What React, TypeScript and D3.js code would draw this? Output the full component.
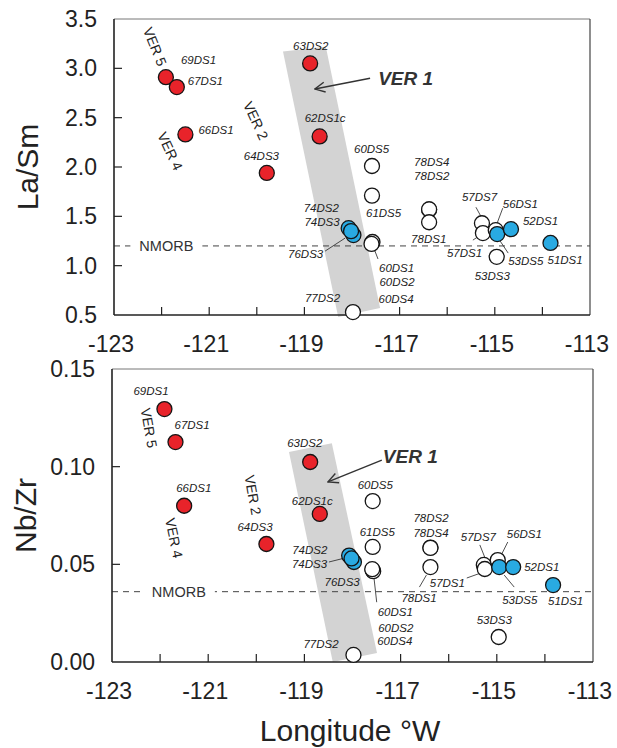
import React from "react"
import * as d3 from "d3"

// samples, west to east
const sampleIds = ["69DS1", "67DS1", "66DS1", "64DS3", "63DS2", "62DS1c", "60DS5", "61DS5", "74DS2", "74DS3", "76DS3", "60DS1", "60DS2", "60DS4", "77DS2", "78DS4", "78DS2", "78DS1", "57DS7", "57DS1", "56DS1", "53DS5", "52DS1", "51DS1", "53DS3"]
const sampleGroup = ["red", "red", "red", "red", "red", "red", "open", "open", "blue", "blue", "blue", "open", "open", "open", "open", "open", "open", "open", "open", "open", "open", "blue", "blue", "blue", "open"]
const longitude = [-121.91, -121.68, -121.5, -119.79, -118.88, -118.68, -117.58, -117.58, -118.07, -117.97, -118.02, -117.58, -117.57, -117.59, -117.98, -116.38, -116.38, -116.38, -115.27, -115.25, -114.98, -114.95, -114.66, -113.83, -114.96]
const laSm = [2.91, 2.81, 2.33, 1.94, 3.05, 2.31, 2.01, 1.71, 1.38, 1.31, 1.35, 1.23, 1.24, 1.22, 0.53, 1.57, 1.57, 1.44, 1.43, 1.33, 1.36, 1.32, 1.37, 1.23, 1.09]
const nbZr = [0.1295, 0.1126, 0.08, 0.0604, 0.1024, 0.0758, 0.0824, 0.0589, 0.0545, 0.0512, 0.053, 0.047, 0.0465, 0.0475, 0.0036, 0.0586, 0.0584, 0.0486, 0.0497, 0.0476, 0.0522, 0.0486, 0.0486, 0.0394, 0.0128]

const lonTicks = [-123, -122, -121, -120, -119, -118, -117, -116, -115, -114, -113]
const lonLabels = [-123, -121, -119, -117, -115, -113]
const laSmTicks = [0.5, 1.0, 1.5, 2.0, 2.5, 3.0, 3.5]
const nbZrTicks = [0, 0.05, 0.1, 0.15]
const nmorbLaSm = 1.2
const nmorbNbZr = 0.036

// VER 1 band corners [lon, value]
const bandLaSm = [[-119.45, 3.17], [-118.55, 3.22], [-117.41, 0.57], [-118.29, 0.48]]
const bandNbZr = [[-119.32, 0.1075], [-118.43, 0.112], [-117.49, 0.0046], [-118.41, 0.0]]

// VER segment notes [text, lon, value, angle]
const verLaSm = [["VER 5", -122.14, 3.22, 68], ["VER 4", -121.82, 2.16, 65], ["VER 2", -120.02, 2.47, 65]]
const verNbZr = [["VER 5", -122.23, 0.1198, 80], ["VER 4", -121.71, 0.0635, 78], ["VER 2", -120.07, 0.0855, 80]]
// VER 1 arrow: from, to, label
const ver1LaSm = [[-117.62, 2.9], [-118.78, 2.79], [-117.45, 2.83]]
const ver1NbZr = [[-117.39, 0.1034], [-118.51, 0.0922], [-117.37, 0.1019]]
const nmorbLabelLon = [-121.9, -121.61]

const W = 617
const H = 748
const font = "'Liberation Sans', Arial, Helvetica, sans-serif"

// label offsets (px from the point) and leader lines
const labelsTop = {
  "69DS1": [15, -13], "67DS1": [11, -2], "66DS1": [13, 0], "64DS3": [-23, -13], "63DS2": [-17, -13], "62DS1c": [-15, -14],
  "60DS5": [-18, -13], "61DS5": [-6, 21], "74DS2": [-45, -16], "74DS3": [-49, -9], "76DS3": [-63, 27],
  "60DS1": [7, 29], "60DS2": [7, 44], "60DS4": [7, 59], "77DS2": [-48, -10], "78DS4": [-15, -43], "78DS2": [-15, -29],
  "78DS1": [-18, 21], "57DS7": [-20, -22], "57DS1": [-36, 24], "56DS1": [7, -22], "53DS5": [11, 31], "52DS1": [12, -4],
  "51DS1": [-3, 21], "53DS3": [-22, 23],
}
const leadersTop = {
  "76DS3": [-26, 20, -6, 7], "60DS1": [1, 3, 6, 16], "57DS7": [-6, -16, 0, -5], "56DS1": [7, -22, 1, -6],
  "57DS1": [-10, 7, -4, 3], "53DS5": [11, 19, 3, 7],
}
const labelsBottom = {
  "69DS1": [-31, -14], "67DS1": [-1, -13], "66DS1": [-8, -14], "64DS3": [-29, -13], "63DS2": [-23, -15], "62DS1c": [-28, -9],
  "60DS5": [-15, -12], "61DS5": [-13, -11], "74DS2": [-57, -2], "74DS3": [-62, 6], "76DS3": [-27, 28],
  "60DS1": [5, 46], "60DS2": [5, 61], "60DS4": [5, 76], "77DS2": [-50, -7], "78DS2": [-17, -26], "78DS4": [-17, -11],
  "78DS1": [-29, 35], "57DS7": [-23, -24], "57DS1": [-55, 18], "56DS1": [9, -22], "53DS5": [3, 37], "52DS1": [11, 4],
  "51DS1": [-5, 20], "53DS3": [-22, -13],
}
const leadersBottom = {
  "74DS3": [-25, 0, -9, -4], "60DS1": [1, 5, 4, 32], "78DS1": [-11, 20, -4, 8], "57DS7": [-4, -20, 2, -5],
  "57DS1": [-18, 9, -4, 4], "56DS1": [10, -18, 4, -6], "53DS5": [15, 20, 5, 8],
}

const fills = { red: "#e8232a", blue: "#29aae2", open: "#ffffff" }
const order = ["open", "blue", "red"]

function Panel({ top, left, width, height, values, yDomain, yTicks, yFmt, yTitle, nmorb, nmorbLon, band, ver, ver1, labels, leaders }) {
  const x = d3.scaleLinear().domain([-123, -113]).range([left, left + width])
  const y = d3.scaleLinear().domain(yDomain).range([top + height, top])
  const pts = sampleIds.map((id, i) => ({ id, g: sampleGroup[i], x: x(longitude[i]), y: y(values[i]) }))
  const sorted = [...pts].sort((a, b) => order.indexOf(a.g) - order.indexOf(b.g))
  const bandPath = d3.line()(band.map(d => [x(d[0]), y(d[1])])) + "Z"
  const ny = y(nmorb)
  const nx = x(nmorbLon)
  return (
    <g>
      <path d={bandPath} fill="#d3d3d3" />
      <line x1={left} x2={left + width} y1={ny} y2={ny} stroke="#444" strokeDasharray="6,5" strokeWidth={1} />
      <rect x={nx - 36} y={ny - 8} width={72} height={16} fill="#fff" />
      <text x={nx} y={ny + 5} textAnchor="middle" fontSize={14.5} fill="#333" fontFamily={font}>NMORB</text>
      {/* frame */}
      <line x1={left} x2={left + width} y1={top} y2={top} stroke="#777" strokeWidth={1} />
      <line x1={left + width} x2={left + width} y1={top} y2={top + height} stroke="#444" strokeWidth={1.2} />
      <line x1={left} x2={left} y1={top} y2={top + height} stroke="#222" strokeWidth={1.6} />
      <line x1={left} x2={left + width} y1={top + height} y2={top + height} stroke="#222" strokeWidth={1.6} />
      {lonTicks.slice(1, -1).map(t => (
        <line key={t} x1={x(t)} x2={x(t)} y1={top + height} y2={top + height - 8} stroke="#222" strokeWidth={1.2} />
      ))}
      {yTicks.slice(1, -1).map(t => (
        <line key={t} x1={left} x2={left + 8} y1={y(t)} y2={y(t)} stroke="#222" strokeWidth={1.2} />
      ))}
      {lonLabels.map(t => (
        <text key={t} x={x(t) - 3} y={top + height + 37} textAnchor="middle" fontSize={23} fill="#222" fontFamily={font}>{t}</text>
      ))}
      {yTicks.map(t => (
        <text key={t} x={left - 17} y={y(t) + 8} textAnchor="end" fontSize={23} fill="#222" fontFamily={font}>{yFmt(t)}</text>
      ))}
      <text transform={`translate(${left - 76},${top + height / 2}) rotate(-90)`} textAnchor="middle" fontSize={30} fill="#222" fontFamily={font}>{yTitle}</text>
      {ver.map(([t, lo, v, a]) => (
        <text key={t} transform={`translate(${x(lo)},${y(v)}) rotate(${a})`} textAnchor="middle" dy={5} fontSize={14} fill="#222" fontFamily={font}>{t}</text>
      ))}
      <line x1={x(ver1[0][0])} y1={y(ver1[0][1])} x2={x(ver1[1][0])} y2={y(ver1[1][1])} stroke="#333" strokeWidth={1.4} markerEnd="url(#arr)" />
      <text x={x(ver1[2][0])} y={y(ver1[2][1])} fontSize={19} fontWeight="bold" fontStyle="italic" fill="#333" fontFamily={font}>VER 1</text>
      {pts.filter(p => leaders[p.id]).map(p => {
        const l = leaders[p.id]
        return <line key={"l" + p.id} x1={p.x + l[0]} y1={p.y + l[1]} x2={p.x + l[2]} y2={p.y + l[3]} stroke="#222" strokeWidth={0.8} />
      })}
      {sorted.map(p => (
        <circle key={p.id} cx={p.x} cy={p.y} r={7.5} fill={fills[p.g]} stroke="#151515" strokeWidth={1.3} />
      ))}
      {pts.map(p => (
        <text key={"t" + p.id} x={p.x + labels[p.id][0]} y={p.y + labels[p.id][1]} fontSize={11.5} fontStyle="italic" fill="#222" fontFamily={font}>{p.id}</text>
      ))}
    </g>
  )
}

export default function App() {
  return (
    <svg width={W} height={H} style={{ position: "absolute", left: 0, top: 0, background: "#fff" }}>
      <defs>
        <marker id="arr" viewBox="0 0 12 12" refX={11} refY={6} markerWidth={12} markerHeight={12} markerUnits="userSpaceOnUse" orient="auto">
          <path d="M1,1 L11,6 L1,11" fill="none" stroke="#333" strokeWidth={1.4} />
        </marker>
      </defs>
      <Panel top={19} left={114} width={476} height={296} values={laSm} yDomain={[0.5, 3.5]} yTicks={laSmTicks}
        yFmt={d3.format(".1f")} yTitle="La/Sm" nmorb={nmorbLaSm} nmorbLon={nmorbLabelLon[0]} band={bandLaSm}
        ver={verLaSm} ver1={ver1LaSm} labels={labelsTop} leaders={leadersTop} />
      <Panel top={369} left={112} width={481} height={293} values={nbZr} yDomain={[0, 0.15]} yTicks={nbZrTicks}
        yFmt={d3.format(".2f")} yTitle="Nb/Zr" nmorb={nmorbNbZr} nmorbLon={nmorbLabelLon[1]} band={bandNbZr}
        ver={verNbZr} ver1={ver1NbZr} labels={labelsBottom} leaders={leadersBottom} />
      <text x={350} y={741} textAnchor="middle" fontSize={30} fill="#222" fontFamily={font}>Longitude °W</text>
    </svg>
  )
}
